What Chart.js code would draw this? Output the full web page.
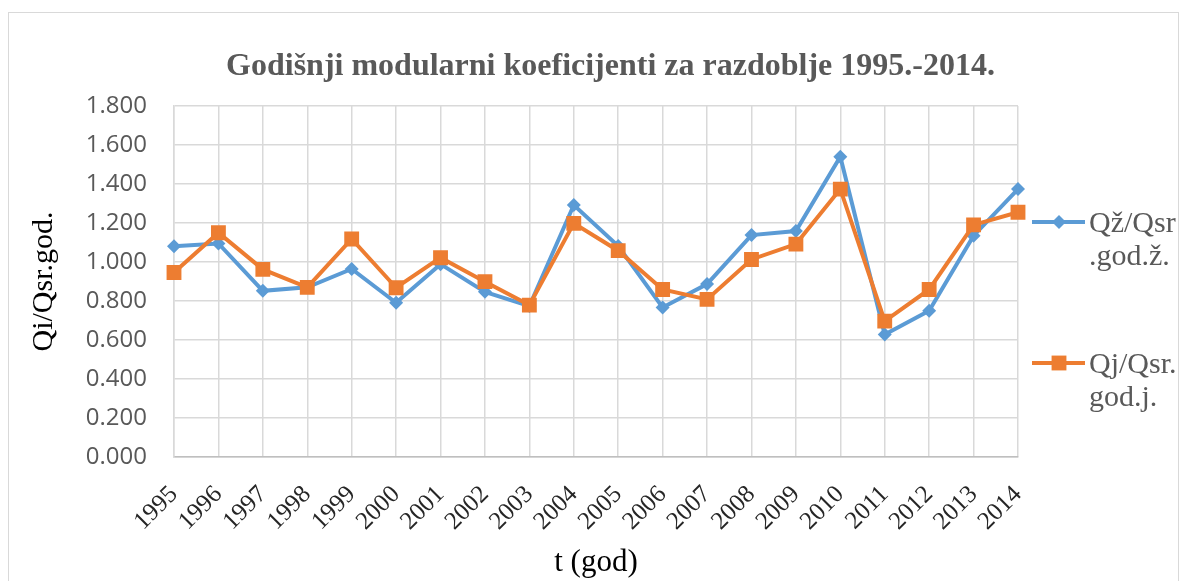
<!DOCTYPE html>
<html>
<head>
<meta charset="utf-8">
<script src="https://cdn.jsdelivr.net/npm/chart.js@4.4.1/dist/chart.umd.min.js"></script>
<style>
  html, body { margin: 0; padding: 0; background: #fff; overflow: hidden; }
  #okvir { position: absolute; left: 8px; top: 12px; width: 1169px; height: 620px; border: 1px solid #d9d9d9; }
  #grafik { position: absolute; left: 0; top: 0; }
</style>
</head>
<body>
<div id="okvir"></div>
<canvas id="grafik" width="1179" height="581"></canvas>
<script>
// godine i modularni koeficijenti
var godine = ['1995', '1996', '1997', '1998', '1999', '2000', '2001', '2002', '2003', '2004',
              '2005', '2006', '2007', '2008', '2009', '2010', '2011', '2012', '2013', '2014'];
var koefZ = [1.081, 1.095, 0.852, 0.870, 0.964, 0.791, 0.989, 0.847, 0.774, 1.292,
             1.082, 0.767, 0.887, 1.138, 1.159, 1.540, 0.628, 0.750, 1.135, 1.374];
var koefJ = [0.946, 1.150, 0.962, 0.870, 1.118, 0.868, 1.022, 0.899, 0.779, 1.198,
             1.058, 0.859, 0.808, 1.013, 1.092, 1.374, 0.697, 0.859, 1.190, 1.255];
var nazivZ = ['Qž/Qsr', '.god.ž.'];
var nazivJ = ['Qj/Qsr.', 'god.j.'];
var naslov = 'Godišnji modularni koeficijenti za razdoblje 1995.-2014.';
var yMin = 0, yMax = 1.8, yKorak = 0.2;

var SERIF = '"Liberation Serif", "Times New Roman", serif';

// naslov iznad grafa (malo desno od sredine, kao u Excelu)
const naslovGore = {
    id: 'naslovGore',
    afterDraw(chart) {
        const ctx = chart.ctx;
        ctx.save();
        ctx.font = 'bold 32px ' + SERIF;
        ctx.fillStyle = '#595959';
        ctx.textAlign = 'center';
        ctx.textBaseline = 'alphabetic';
        ctx.fillText(naslov, chart.width / 2 + 21, 75);
        ctx.restore();
    }
};

// legenda desno od grafa, naziv u dva reda
const legendaDesno = {
    id: 'legendaDesno',
    afterDraw(chart) {
        const ctx = chart.ctx;
        const a = chart.chartArea;
        const pomak = [116, 257];
        chart.data.datasets.forEach((ds, i) => {
            const x0 = a.right + 14;
            const y = a.top + pomak[i];
            ctx.save();
            ctx.strokeStyle = ds.borderColor;
            ctx.lineWidth = ds.borderWidth;
            ctx.beginPath();
            ctx.moveTo(x0, y);
            ctx.lineTo(x0 + 53, y);
            ctx.stroke();
            ctx.fillStyle = ds.pointBackgroundColor;
            Chart.helpers.drawPoint(ctx, { pointStyle: ds.pointStyle, radius: ds.pointRadius, borderWidth: 0 }, x0 + 27, y);
            ctx.font = '30px ' + SERIF;
            ctx.fillStyle = '#595959';
            ctx.textBaseline = 'alphabetic';
            ds.naziv.forEach((red, j) => {
                ctx.fillText(red, x0 + 57, y + 10 + j * 33);
            });
            ctx.restore();
        });
    }
};

const ctxGraf = document.getElementById('grafik').getContext('2d');
const graf = new Chart(ctxGraf, {
    type: 'line',
    data: {
        labels: godine,
        datasets: [{
            label: nazivZ.join(''),
            naziv: nazivZ,
            data: koefZ,
            borderColor: '#5b9bd5',
            backgroundColor: '#5b9bd5',
            pointBackgroundColor: '#5b9bd5',
            pointBorderWidth: 0,
            borderWidth: 4,
            pointStyle: 'rectRot',
            pointRadius: 7,
            tension: 0,
            order: 1
        }, {
            label: nazivJ.join(''),
            naziv: nazivJ,
            data: koefJ,
            borderColor: '#ed7d31',
            backgroundColor: '#ed7d31',
            pointBackgroundColor: '#ed7d31',
            pointBorderWidth: 0,
            borderWidth: 4,
            pointStyle: 'rect',
            pointRadius: 10.5,
            tension: 0,
            order: 0
        }]
    },
    options: {
        responsive: false,
        animation: false,
        layout: { padding: { left: 0, right: 161, top: 106, bottom: 0 } },
        plugins: {
            legend: { display: false },
            tooltip: { enabled: false },
            title: { display: false }
        },
        scales: {
            x: {
                grid: { color: '#d9d9d9', lineWidth: 1.5, drawTicks: false },
                border: { color: '#bfbfbf', width: 1.5 },
                ticks: {
                    autoSkip: false,
                    minRotation: 45,
                    maxRotation: 45,
                    padding: 23,
                    color: '#262626',
                    font: { family: SERIF, size: 25 }
                },
                title: {
                    display: true,
                    text: 't (god)',
                    color: '#000',
                    font: { family: SERIF, size: 31 },
                    padding: { top: 0, bottom: 0 }
                },
                afterFit: (s) => { s.height = 124; }
            },
            y: {
                min: yMin,
                max: yMax,
                grid: { color: '#d9d9d9', lineWidth: 1.5, drawTicks: false },
                border: { color: '#d9d9d9', width: 1.5 },
                ticks: {
                    stepSize: yKorak,
                    padding: 27,
                    color: '#595959',
                    font: { family: '"Open Sans", sans-serif', size: 24 },
                    callback: (v) => Number(v).toFixed(3)
                },
                title: {
                    display: true,
                    text: 'Qi/Qsr.god.',
                    color: '#000',
                    font: { family: SERIF, size: 30 },
                    padding: { top: 26 }
                },
                afterFit: (s) => { s.width = 174; }
            }
        }
    },
    plugins: [naslovGore, legendaDesno]
});
</script>
</body>
</html>
